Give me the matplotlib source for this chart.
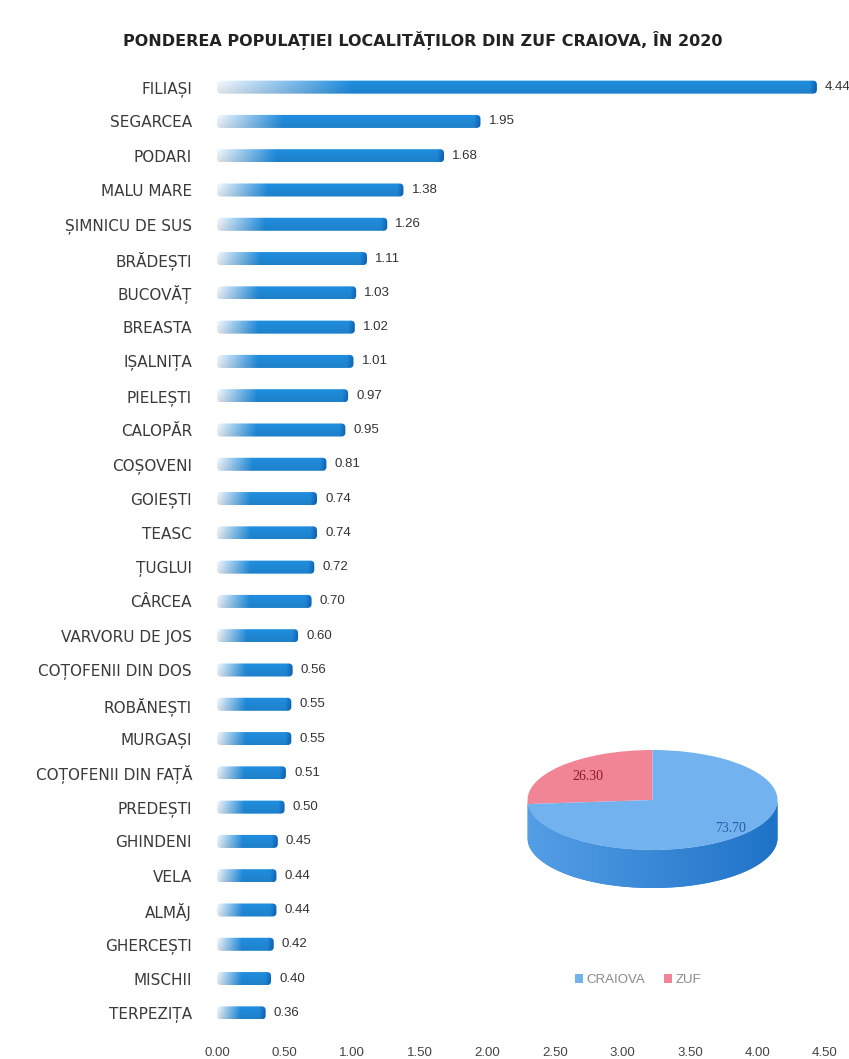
import numpy as np
import matplotlib
matplotlib.use("Agg")
import matplotlib.pyplot as plt
from matplotlib.patches import Wedge, Polygon, Patch, FancyBboxPatch

# data
localitati = ["FILIAȘI", "SEGARCEA", "PODARI", "MALU MARE", "ȘIMNICU DE SUS", "BRĂDEȘTI",
              "BUCOVĂȚ", "BREASTA", "IȘALNIȚA", "PIELEȘTI", "CALOPĂR", "COȘOVENI",
              "GOIEȘTI", "TEASC", "ȚUGLUI", "CÂRCEA", "VARVORU DE JOS", "COȚOFENII DIN DOS",
              "ROBĂNEȘTI", "MURGAȘI", "COȚOFENII DIN FAȚĂ", "PREDEȘTI", "GHINDENI", "VELA",
              "ALMĂJ", "GHERCEȘTI", "MISCHII", "TERPEZIȚA"]
pondere = [4.44, 1.95, 1.68, 1.38, 1.26, 1.11, 1.03, 1.02, 1.01, 0.97, 0.95, 0.81,
           0.74, 0.74, 0.72, 0.70, 0.60, 0.56, 0.55, 0.55, 0.51, 0.50, 0.45, 0.44,
           0.44, 0.42, 0.40, 0.36]
x_ticks = [0, 0.5, 1, 1.5, 2, 2.5, 3, 3.5, 4, 4.5]

pie_labels = ["CRAIOVA", "ZUF"]
pie_values = [73.70, 26.30]
pie_colors = ["#72b2ee", "#f28595"]

plt.rcParams["font.family"] = ["Liberation Sans", "DejaVu Sans"]

fig = plt.figure(figsize=(8.49, 10.59), dpi=100)
ax = fig.add_axes([217 / 849, 1 - 1030 / 1059, (825 - 217) / 849, 960 / 1059])

y = np.arange(len(pondere))
h = 0.38
bars = ax.barh(y, pondere, height=h, color="none", edgecolor="none")

# gradient fill for each bar (pale at the start, blue body, darker rounded end)
light = np.array([0.96, 0.98, 1.0])
blue = np.array([0.13, 0.56, 0.88])
dark = np.array([0.05, 0.40, 0.75])
ny = 14
shade = np.linspace(1.0, 0.9, ny)[:, None, None]
for b, v, yi in zip(bars, pondere, y):
    fade = 0.1 + 0.2 * v
    xs = np.linspace(0, v, 400)
    tx = [0, fade, v - 0.05, v]
    row = np.stack([np.interp(xs, tx, [light[k], blue[k], blue[k], dark[k]]) for k in range(3)],
                   axis=-1)
    img = np.clip(row[None, :, :] * shade, 0, 1)
    clip = FancyBboxPatch((0, yi - h / 2), v, h, boxstyle="round,pad=0,rounding_size=0.03",
                          mutation_aspect=3.9, transform=ax.transData,
                          facecolor="none", edgecolor="none")
    ax.add_patch(clip)
    im = ax.imshow(img, extent=[0, v, yi + h / 2, yi - h / 2], aspect="auto",
                   interpolation="bilinear", zorder=2)
    im.set_clip_path(clip)
    ax.text(v + 0.06, yi, f"{v:.2f}", va="center", ha="left", fontsize=9.5, color="#333333")

ax.set_xlim(0, 4.5)
ax.set_ylim(len(pondere) - 0.5, -0.5)
ax.set_yticks(y)
ax.set_yticklabels(localitati, fontsize=11, color="#3a3a3a", family=["DejaVu Sans"])
ax.set_xticks(x_ticks)
ax.set_xticklabels([f"{v:.2f}" for v in x_ticks], fontsize=9.5, color="#444444")
ax.tick_params(length=0)
ax.tick_params(axis="y", pad=18)
ax.tick_params(axis="x", pad=12)
for s in ax.spines.values():
    s.set_visible(False)

fig.text(0.498, 1 - 40 / 1059,
         "PONDEREA POPULAȚIEI LOCALITĂȚILOR DIN ZUF CRAIOVA, ÎN 2020",
         ha="center", va="center", fontsize=11.5, fontweight="bold", color="#222222",
         family=["DejaVu Sans"])

# 3D-like pie
pax = fig.add_axes([515 / 849, 1 - 900 / 1059, 275 / 849, 170 / 1059])
pax.set_xlim(-1.1, 1.1)
pax.set_ylim(-2.0, 1.4)
pax.axis("off")
depth = 0.76

tt = np.linspace(np.pi, 2 * np.pi, 120)
side = np.concatenate([np.c_[np.cos(tt), np.sin(tt)],
                       np.c_[np.cos(tt[::-1]), np.sin(tt[::-1]) - depth]])
side_patch = Polygon(side, closed=True, facecolor="#2f80d2", edgecolor="none", zorder=1)
pax.add_patch(side_patch)
sg = np.linspace(0, 1, 100)
side_img = np.stack([np.interp(sg, [0, 1], [0.33, 0.12]),
                     np.interp(sg, [0, 1], [0.62, 0.45]),
                     np.interp(sg, [0, 1], [0.9, 0.78])], axis=-1)[None, :, :]
sim = pax.imshow(side_img, extent=[-1, 1, -1 - depth, 0], aspect="auto", zorder=1)
sim.set_clip_path(side_patch)

start = 90
total = sum(pie_values)
angles = {}
for lab, val, col in zip(pie_labels[::-1], pie_values[::-1], pie_colors[::-1]):
    span = val / total * 360
    pax.add_patch(Wedge((0, 0), 1, start, start + span, facecolor=col, edgecolor="none", zorder=2))
    angles[lab] = (start, start + span)
    start += span

for lab, val, r, col in zip(pie_labels, pie_values, [0.85, 0.7], ["#2a5db0", "#8b1a2a"]):
    a0, a1 = angles[lab]
    mid = np.deg2rad((a0 + a1) / 2)
    pax.text(r * np.cos(mid), r * np.sin(mid), f"{val:.2f}", ha="center", va="center",
             fontsize=10, color=col, family=["Liberation Serif"], zorder=3)

handles = [Patch(facecolor=c, edgecolor="none") for c in pie_colors]
fig.legend(handles, pie_labels, loc="center", bbox_to_anchor=(638 / 849, 1 - 980 / 1059),
           ncol=2, frameon=False, fontsize=9.5, labelcolor="#8a8a8a",
           handlelength=0.6, handleheight=0.6, handletextpad=0.3, columnspacing=1.4)

fig.savefig("out.png", dpi=100)
